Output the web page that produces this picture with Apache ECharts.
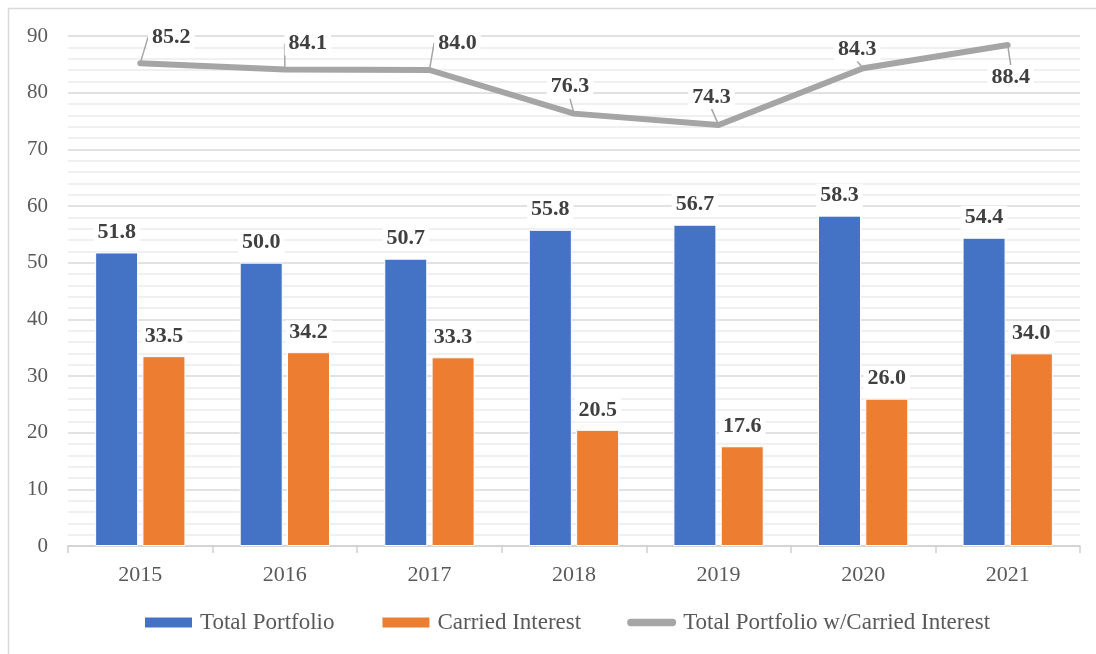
<!DOCTYPE html>
<html>
<head>
<meta charset="utf-8">
<script src="https://cdn.jsdelivr.net/npm/echarts@6/dist/echarts.min.js"></script>
<style>html,body{margin:0;padding:0;background:#fff;}#c{width:1096px;height:654px;}</style>
</head>
<body>
<div id="c"></div>
<script>
var years = ['2015', '2016', '2017', '2018', '2019', '2020', '2021'];
var totalPortfolio = [51.8, 50.0, 50.7, 55.8, 56.7, 58.3, 54.4];
var carriedInterest = [33.5, 34.2, 33.3, 20.5, 17.6, 26.0, 34.0];
var totalWithCarried = [85.2, 84.1, 84.0, 76.3, 74.3, 84.3, 88.4];
var seriesNames = ['Total Portfolio', 'Carried Interest', 'Total Portfolio w/Carried Interest'];

var lineLabelShift = [[31, -9], [23, -9], [28, -10], [-4, -10], [-7, -11], [-6, -2], [3, 49]];
var font = '"Liberation Serif", "Times New Roman", serif';

var chart = echarts.init(document.getElementById('c'));
var barLabel = {
  show: true, position: 'top', distance: 8,
  fontFamily: font, fontSize: 22, fontWeight: 'bold', color: '#404040',
  backgroundColor: '#fff', padding: [1, 4],
  formatter: function (p) { return p.value.toFixed(1); }
};
chart.setOption({
  animation: false,
  textStyle: { fontFamily: font },
  graphic: [{
    type: 'rect', shape: { x: 8.5, y: 8.5, width: 1100, height: 660 },
    style: { fill: 'none', stroke: '#d9d9d9', lineWidth: 1.5 }, z: -1
  }],
  grid: { left: 68, right: 16, top: 36, bottom: 108, containLabel: false },
  legend: {
    bottom: 15, left: 138, itemGap: 46,
    textStyle: { fontFamily: font, fontSize: 23, color: '#595959', padding: [0, 0, 0, 2] },
    data: [
      { name: seriesNames[0], icon: 'rect' },
      { name: seriesNames[1], icon: 'rect' },
      { name: seriesNames[2], icon: 'path://M4,0 L50,0 A4,4 0 0 1 50,8 L4,8 A4,4 0 0 1 4,0 Z' }
    ],
    itemWidth: 49, itemHeight: 12
  },
  xAxis: {
    type: 'category', data: years,
    axisLine: { lineStyle: { color: '#d0d0d0', width: 1.5 } },
    axisTick: { show: true, length: 7, lineStyle: { color: '#d0d0d0', width: 1.5 } },
    axisLabel: { fontFamily: font, fontSize: 22, color: '#595959', margin: 18 }
  },
  yAxis: {
    type: 'value', min: 0, max: 90, interval: 10,
    axisLine: { show: false }, axisTick: { show: false },
    axisLabel: { fontFamily: font, fontSize: 21, color: '#595959', margin: 20 },
    splitLine: { lineStyle: { color: '#d9d9d9', width: 1.5 } },
    minorTick: { show: false, splitNumber: 5 },
    minorSplitLine: { show: true, lineStyle: { color: '#ececec', width: 1.5 } }
  },
  series: [
    {
      name: seriesNames[0], type: 'bar', data: totalPortfolio,
      barWidth: 43, barGap: '10%',
      itemStyle: { color: '#4472C4', borderColor: '#fff', borderWidth: 1 },
      label: barLabel
    },
    {
      name: seriesNames[1], type: 'bar', data: carriedInterest,
      barWidth: 43, barGap: '10%',
      itemStyle: { color: '#ED7D31', borderColor: '#fff', borderWidth: 1 },
      label: barLabel
    },
    {
      name: seriesNames[2], type: 'line', data: totalWithCarried,
      symbol: 'circle', symbolSize: 0.1, showSymbol: true, z: 5,
      lineStyle: { color: '#A5A5A5', width: 6, cap: 'round', join: 'round' },
      itemStyle: { color: '#A5A5A5' },
      label: {
        show: true, position: 'top', distance: 5,
        fontFamily: font, fontSize: 22, fontWeight: 'bold', color: '#404040',
        backgroundColor: '#fff', padding: [1, 4],
        formatter: function (p) { return p.value.toFixed(1); }
      },
      labelLine: { show: true, lineStyle: { color: '#A5A5A5', width: 1.5 }, length2: 0 },
      labelLayout: function (p) {
        var s = lineLabelShift[p.dataIndex];
        return { dx: s[0], dy: s[1] };
      }
    }
  ]
});
</script>
</body>
</html>
